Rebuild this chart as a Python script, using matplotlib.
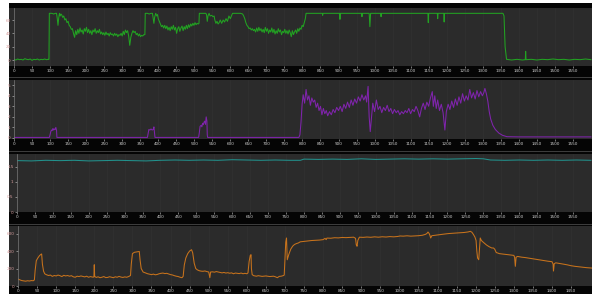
import matplotlib
matplotlib.use("Agg")
import matplotlib.pyplot as plt
from matplotlib.patches import Rectangle

# ---- data ----
green_x = [0, 5, 10, 15, 20, 25, 30, 35, 40, 45, 50, 55, 60, 65, 70, 75, 80, 85, 90, 95,
           97, 98, 105, 110, 115, 118, 120, 122, 124, 126, 128, 130, 132,
           135, 138, 141, 144, 147, 150, 153, 156, 159, 162, 165,
           168, 171, 174, 177, 180, 183, 186, 189, 192, 195, 198, 201, 204, 207, 210, 213, 216, 219,
           222, 225, 228, 231, 234, 237, 240, 243, 246, 249, 252, 255, 258, 261, 264, 267, 270, 273,
           276, 279, 282, 285, 288, 291, 294, 297, 300, 303, 306, 309, 312, 315, 318, 321, 324, 327,
           330, 333, 336, 339, 342, 345, 348, 351, 354, 357, 360, 363,
           364, 370, 375, 380, 384, 386, 388, 390, 393, 396, 398, 400, 403, 406, 409, 412, 415,
           418, 421, 424, 427, 430, 433, 436, 439, 442, 445, 448, 451, 454, 457, 460, 463, 466, 469,
           472, 475, 478, 481, 484, 487, 490, 493, 496, 499, 502, 505, 508, 511, 513,
           514, 520, 526, 532, 534, 536, 538, 541, 544, 548, 552, 555, 557, 560, 563, 566, 569, 572,
           576, 580, 584, 588, 592, 596, 600, 606, 614, 620, 628, 634, 637, 640, 643, 646, 649, 652,
           655, 658, 661, 664, 667,
           670, 673, 676, 679, 682, 685, 688, 691, 694, 697, 700, 703, 706, 709, 712, 715, 718, 721,
           724, 727, 730, 733, 736, 739, 742, 745, 748, 751, 754, 757, 760, 763, 766, 769, 772, 775,
           778, 781, 784, 787, 790, 793, 796, 799, 802, 805, 808, 810,
           855, 856, 857, 903, 904, 905, 964, 965, 966, 985, 987, 989, 1017, 1018, 1019,
           1148, 1149, 1150, 1174, 1175, 1176, 1192, 1193, 1194, 1356, 1359, 1362, 1366,
           1380, 1395, 1410, 1418, 1419, 1420, 1435, 1450, 1465, 1480, 1495, 1510, 1525, 1540,
           1555, 1570, 1585, 1600]
green_y = [1, 0, 1.5, 0.5, 1, 0, 2, 1, 0.5, 1.5, -0.5, 1, 0.5, 1.5, 0, 1, 0.5, 1.5, 0.5, 1,
           1, 70, 70, 69, 70, 70, 62, 52, 63, 70, 66, 69, 68,
           64, 66, 60, 62, 56, 58, 52, 50, 46, 47, 40,
           34, 44, 38, 46, 40, 48, 42, 45, 39, 47, 43, 49, 41, 46, 40, 44, 38, 45,
           42, 47, 40, 44, 41, 46, 39, 42, 38, 41, 37, 42, 38, 40, 36, 41, 38, 39,
           36, 40, 37, 39, 35, 38, 37, 40, 36, 43, 38, 45, 41, 44, 36, 22, 34, 40,
           44, 41, 43, 38, 40, 36, 39, 35, 37, 36, 38, 38,
           70, 70, 69, 70, 70, 62, 55, 64, 70, 66, 68, 62, 58, 54, 50, 52, 48,
           52, 47, 51, 45, 49, 44, 50, 46, 52, 45, 49, 40, 47, 50, 43, 48, 51, 44,
           50, 46, 52, 47, 53, 49, 54, 51, 55, 52, 56, 53, 55, 54, 55,
           70, 70, 70, 70, 68, 58, 66, 70, 66, 67, 65, 66, 60, 55, 58, 54, 56, 60,
           55, 60, 57, 62, 58, 66, 62, 70, 70, 70, 70, 69, 66, 62, 56, 52, 50, 47,
           48, 45, 47, 44, 46,
           42, 48, 43, 49, 44, 47, 42, 46, 41, 49, 43, 47, 40, 45, 42, 48, 41, 46,
           39, 44, 40, 47, 42, 45, 38, 43, 41, 46, 40, 44, 39, 45, 41, 35, 44, 38,
           42, 45, 40, 47, 43, 48, 46, 52, 50, 56, 62, 70,
           70, 67, 70, 70, 61, 70, 70, 65, 70, 70, 50, 70, 70, 65, 70,
           70, 56, 70, 70, 62, 70, 70, 57, 70, 70, 66, 20, 1,
           0, 1, 0, 0.5, 13, 0.5, 1, 0, 1, 0.5, 1.5, 0.5, 1, 0,
           1, 0.5, 1.5, 0.5]

purple_x = [0, 98, 100, 102, 104, 106, 108, 110, 112, 114, 116, 118, 119,
            370, 372, 374, 377, 380, 383, 386, 388, 390, 391,
            512, 514, 516, 519, 521, 523, 525, 527, 529, 531, 533, 535, 536, 537,
            790, 793, 796, 799, 802, 806, 810, 814, 818, 822, 826, 830, 834, 838, 842, 846, 850,
            854, 858, 862, 866, 870, 875, 880, 885, 890, 895, 900, 905, 910, 915, 920, 925, 930,
            935, 940, 945, 950, 955, 960, 965, 970, 975, 978, 982, 985, 988, 991, 995,
            1000, 1005, 1010, 1015, 1020, 1025, 1030, 1035, 1040, 1045, 1050, 1055, 1060, 1065,
            1070, 1075, 1080, 1085, 1090, 1095, 1100, 1105, 1110, 1115, 1120, 1125, 1130, 1135,
            1140, 1145, 1150, 1155, 1160, 1163, 1167, 1171, 1175, 1180, 1185, 1190, 1195, 1199,
            1204, 1209, 1214, 1219, 1224, 1229, 1234, 1239, 1244, 1249, 1254, 1259, 1264, 1269,
            1274, 1279, 1284, 1289, 1294, 1299, 1303, 1306, 1310, 1314, 1318, 1322, 1328, 1335,
            1345, 1355, 1367, 1400, 1450, 1500, 1550, 1600]
purple_y = [0.05, 0.05, 0.3, 0.6, 0.75, 0.7, 0.9, 0.75, 0.85, 0.8, 1.0, 0.7, 0.05,
            0.05, 0.4, 0.8, 0.75, 0.85, 0.75, 0.8, 1.05, 0.4, 0.05,
            0.05, 0.5, 1.1, 1.2, 1.05, 1.4, 1.25, 1.5, 1.6, 1.3, 2.0, 1.6, 0.3, 0.05,
            0.05, 0.3, 1.5, 3.2, 4.1, 3.3, 4.6, 3.6, 4.0, 3.1, 3.8, 3.4, 3.6, 2.9, 3.3, 2.6, 3.0,
            2.2, 2.8, 2.3, 2.6, 2.1, 2.5, 2.2, 2.7, 2.4, 2.9, 2.6, 3.0, 2.5, 3.2, 2.8, 3.4, 2.9,
            3.6, 3.1, 3.7, 3.3, 3.9, 3.5, 4.1, 3.6, 4.0, 3.4, 4.9, 2.0, 0.6, 1.8, 3.3,
            2.5, 3.6, 2.7, 3.0, 2.4, 2.9, 2.6, 3.1, 2.5, 2.8, 2.3, 2.7, 2.4, 2.6,
            2.2, 2.5, 2.3, 2.6, 2.4, 2.8, 2.3, 2.7, 2.5, 3.0, 2.6, 2.0, 2.8, 3.3,
            2.7, 3.4, 3.0, 3.8, 4.4, 3.0, 4.0, 2.8, 3.6, 2.6, 3.2, 2.4, 0.75, 2.5,
            3.2, 2.7, 3.5, 2.9, 3.7, 3.1, 3.9, 3.3, 4.2, 3.5, 4.0, 3.6, 4.6, 3.8,
            4.3, 3.7, 4.5, 3.9, 4.4, 4.0, 4.3, 4.7, 4.2, 3.5, 2.5, 1.8, 1.2, 0.8,
            0.45, 0.25, 0.12, 0.1, 0.1, 0.1, 0.1, 0.1]

teal_x = [0, 40, 80, 120, 160, 200, 240, 280, 320, 360, 400, 440, 480, 520, 560, 600,
          640, 680, 720, 760, 790, 800, 840, 880, 920, 960, 1000, 1040, 1080, 1120, 1160,
          1200, 1240, 1280, 1300, 1320, 1360, 1400, 1440, 1480, 1520, 1560, 1600]
teal_y = [1.71, 1.70, 1.72, 1.71, 1.72, 1.70, 1.71, 1.72, 1.71, 1.70, 1.72, 1.73, 1.72, 1.73,
          1.72, 1.74, 1.73, 1.72, 1.73, 1.72, 1.72, 1.76, 1.75, 1.76, 1.75, 1.77, 1.75, 1.76,
          1.77, 1.76, 1.77, 1.76, 1.77, 1.78, 1.77, 1.73, 1.72, 1.73, 1.72, 1.73, 1.72, 1.73, 1.72]

orange_x = [0, 5, 10, 15, 20, 25, 30, 35, 40, 43, 45, 48, 52, 56, 60, 62, 64, 67, 70, 74,
            80, 85, 90, 95, 100, 105, 110, 115, 120, 125, 130, 135, 140, 145, 150, 155, 160,
            165, 170, 175, 180, 185, 190, 195, 199, 200, 201, 205, 210, 215, 220, 225, 230,
            235, 240, 245, 250, 255, 260, 265, 270, 275, 280, 285, 290, 295, 297, 300, 305,
            312, 318, 320, 323, 328, 335, 340, 345, 350, 355, 360, 365, 370, 375, 380, 385,
            390, 395, 400, 405, 410, 415, 420, 425, 430, 433, 436, 440, 445, 450, 455, 458,
            462, 466, 470, 475, 480, 485, 490, 495, 500, 503, 505, 510, 515, 520, 525, 530,
            535, 540, 545, 550, 555, 560, 565, 570, 575, 580, 585, 590, 595, 600, 603, 606,
            609, 611, 612, 614, 618, 625, 630, 640, 650, 660, 670, 675, 680, 685, 690, 695,
            698, 700, 702, 704, 706, 710, 715, 720, 725, 730, 735, 740, 750, 760, 770, 780,
            790, 800, 805, 808, 810, 820, 830, 840, 850, 860, 870, 880, 885, 887, 889, 891,
            895, 905, 915, 925, 935, 945, 955, 965, 975, 985, 995, 1002, 1010, 1020, 1030,
            1040, 1050, 1060, 1068, 1072, 1075, 1078, 1080, 1082, 1085, 1090, 1100, 1110,
            1120, 1130, 1140, 1150, 1160, 1170, 1180, 1186, 1190, 1194, 1198, 1201, 1203,
            1205, 1208, 1210, 1212, 1215, 1220, 1228, 1235, 1242, 1247, 1250, 1254, 1258,
            1262, 1270, 1280, 1290, 1300, 1302, 1304, 1306, 1310, 1320, 1330, 1340, 1350,
            1360, 1370, 1380, 1390, 1400, 1403, 1404, 1406, 1410, 1420, 1430, 1440, 1450,
            1460, 1470, 1480, 1490, 1500, 1505]
orange_y = [80, 70, 62, 58, 55, 60, 57, 62, 60, 70, 180, 290, 320, 345, 362, 366, 250, 170, 140, 130,
            120, 125, 110, 120, 115, 125, 118, 108, 122, 115, 120, 112, 118, 105, 100, 112, 108,
            115, 110, 104, 112, 100, 108, 102, 102, 243, 110, 98, 105, 95, 100, 108, 96,
            98, 106, 100, 95, 105, 100, 110, 102, 98, 104, 100, 108, 120, 250, 370, 385,
            390, 395, 300, 200, 160, 148, 140, 135, 130, 136, 128, 132, 140, 145, 148, 142,
            145, 138, 130, 126, 118, 112, 108, 100, 95, 110, 240, 320, 370, 400, 415, 380,
            260, 200, 185, 175, 170, 168, 172, 165, 160, 95, 160, 162, 158, 165, 160, 155,
            150, 155, 148, 152, 146, 150, 140, 148, 145, 142, 148, 140, 145, 140, 150, 280,
            350, 358, 200, 130, 118, 112, 118, 110, 115, 108, 112, 105, 95, 110, 112, 118,
            125, 300, 500, 549, 300, 360, 420, 455, 475, 485, 492, 505, 510, 515, 520, 522,
            525, 530, 545, 530, 548, 546, 552, 550, 555, 553, 556, 558, 545, 470, 454, 520,
            558, 556, 560, 557, 562, 558, 563, 560, 565, 562, 566, 572, 570, 574, 570,
            572, 575, 580, 590, 600, 617, 600, 580, 549, 575, 578, 585, 590,
            595, 600, 603, 606, 610, 612, 618, 625, 615, 590, 560, 520, 400,
            320, 300, 420, 549, 520, 500, 470, 450, 435, 434, 420, 382, 377,
            370, 366, 362, 356, 350, 330, 225, 330, 338, 330, 325, 318, 312,
            305, 298, 290, 283, 278, 250, 171, 255, 265, 258, 250, 242, 232,
            225, 220, 215, 210, 207, 205]

# x tick positions of the top three panels and of the bottom one
xticks_top = list(range(0, 1551, 50))
xticks_bottom = list(range(0, 1451, 50))

# ---- layout, in pixels of the 600x294 picture ----
W, H = 600, 294
fig = plt.figure(figsize=(6, 2.94), dpi=100, facecolor='white')

def box(x0, y0, x1, y1):
    return [x0 / W, 1 - y1 / H, (x1 - x0) / W, (y1 - y0) / H]

def rect(x0, y0, x1, y1, c):
    b = box(x0, y0, x1, y1)
    fig.add_artist(Rectangle((b[0], b[1]), b[2], b[3], transform=fig.transFigure,
                             facecolor=c, edgecolor='none', zorder=-5))

BG = '#2b2b2b'
rect(9, 3, 592, 294, '#050505')
for yy in [77, 151, 224]:
    rect(9, yy, 592, yy + 1, '#3c3c3c')

panels = [
    # left, top, bottom, x data, y data, colour, xmax, xticks, ylim, yticks, labels
    (14, 8, 66, green_x, green_y, '#22a322', 1603, xticks_top, (-9, 78), [0, 20, 40, 60],
     ['0', '20', '40', '60']),
    (14, 80, 139, purple_x, purple_y, '#8024ad', 1603, xticks_top, (-0.1, 5.5), [0, 1, 2, 3, 4, 5],
     ['0', '1', '2', '3', '4', '5']),
    (17, 154, 212, teal_x, teal_y, '#22918c', 1603, xticks_top, (0, 1.93), [0, 0.5, 1, 1.5],
     ['0', '0.5', '1', '1.5']),
    (18, 226, 286, orange_x, orange_y, '#c8731c', 1505, xticks_bottom, (0, 686), [0, 200, 400, 600],
     ['0', '200', '400', '600']),
]

for left, top, bot, xs, ys, col, xmax, xt, ylim, yt, ytl in panels:
    rect(9, top, left, bot, BG)
    ax = fig.add_axes(box(left, top, 592, bot))
    ax.set_facecolor(BG)
    ax.plot(xs, ys, color=col, lw=0.75)
    ax.set_xlim(0, xmax)
    ax.set_ylim(*ylim)
    ax.set_xticks(xt)
    ax.set_yticks(yt)
    ax.set_yticklabels(ytl)
    ax.grid(axis='x', color='#313131', lw=0.5)
    ax.set_axisbelow(True)
    for s in ax.spines.values():
        s.set_visible(False)
    ax.spines['left'].set_visible(True)
    ax.spines['left'].set_color('#777777')
    ax.spines['left'].set_linewidth(0.5)
    ax.tick_params(colors='#cfcfcf', labelsize=3, length=1.5, width=0.4, pad=1)
    ax.tick_params(axis='y', labelcolor='#d9a0a0')

fig.savefig('out.png', dpi=100, facecolor='white')
